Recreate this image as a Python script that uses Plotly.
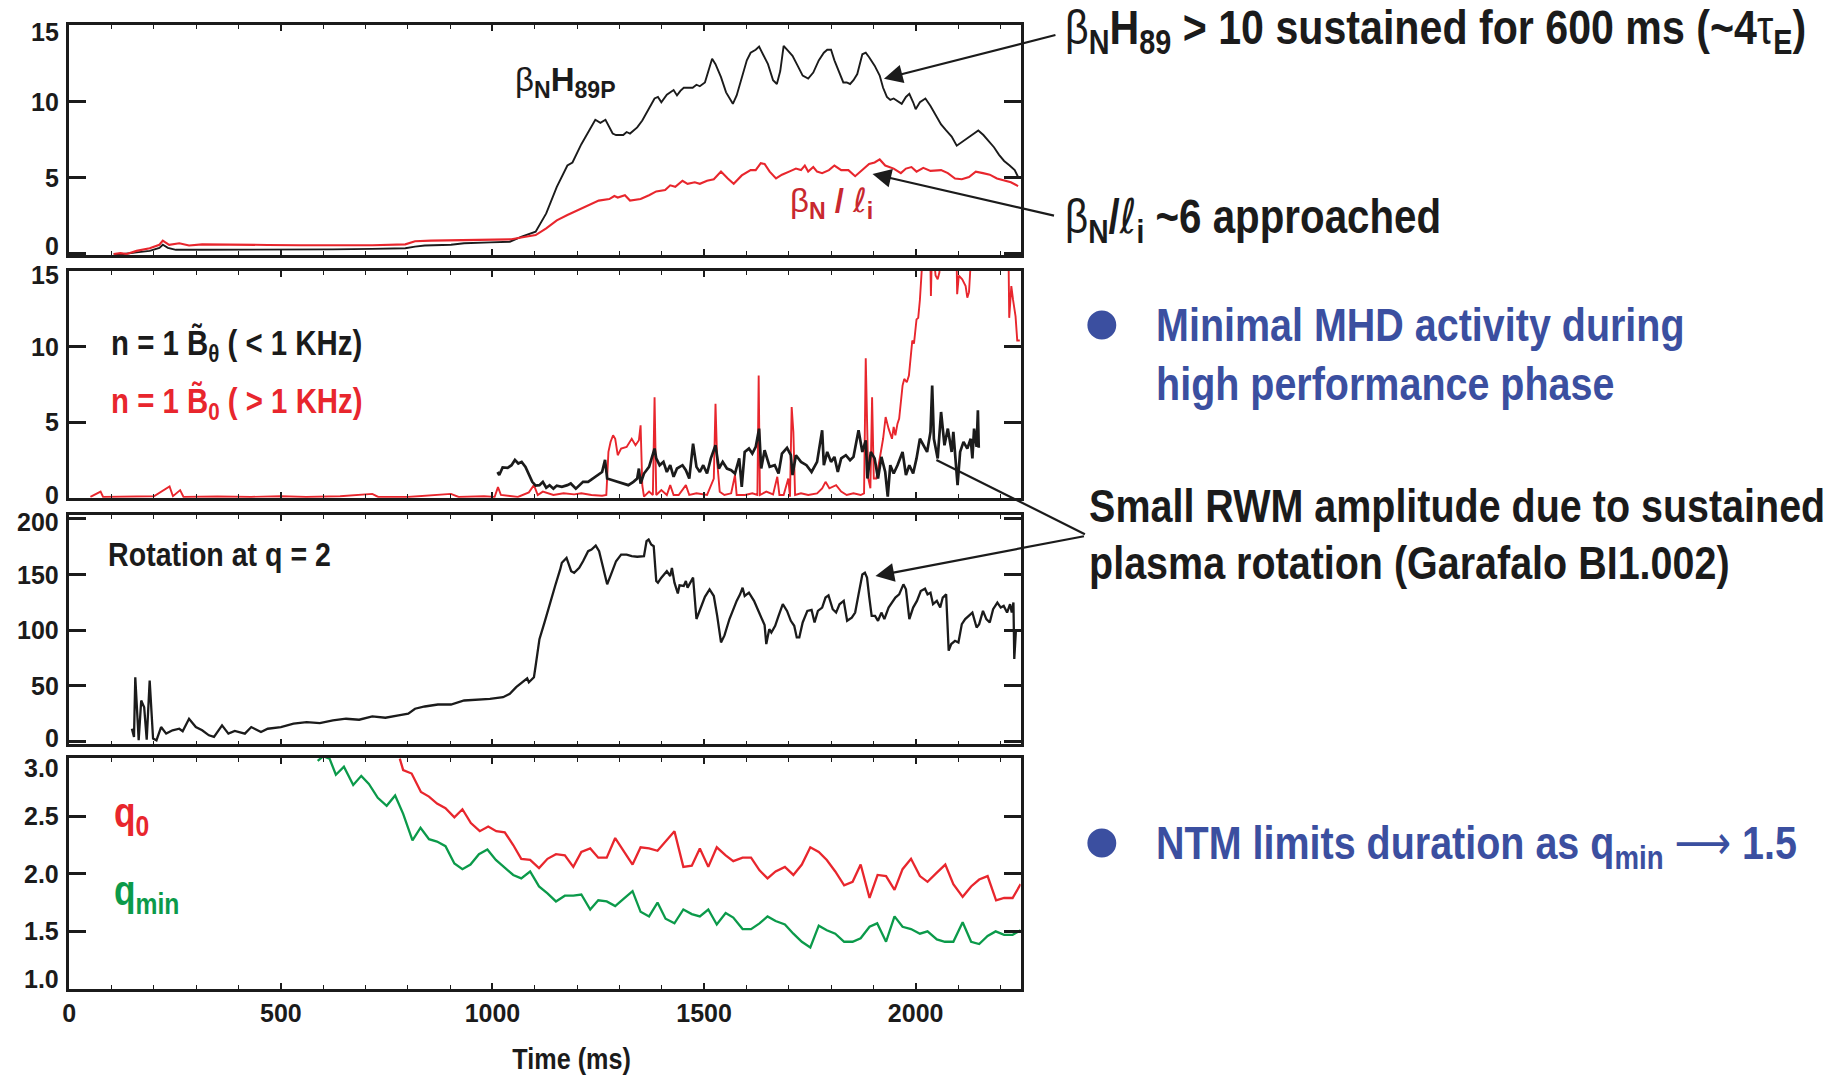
import plotly.graph_objects as go

W, H = 1843, 1075

# ---------------- data ----------------
# Panel 1: beta_N*H89P and beta_N/li versus time (ms)
t_bnh = [105, 128, 159, 190, 213, 221, 233, 252, 314, 391, 469, 546, 623, 716, 794, 817, 840, 902, 933,
         995, 1041, 1069, 1102, 1127, 1152, 1177, 1189, 1210, 1226, 1243, 1255, 1267, 1284, 1292, 1309,
         1317, 1325, 1342, 1354, 1370, 1383, 1391, 1399, 1412, 1420, 1428, 1436, 1444, 1452, 1461, 1473,
         1482, 1490, 1502, 1511, 1519, 1527, 1540, 1552, 1568, 1577, 1589, 1601, 1610, 1622, 1630, 1639,
         1651, 1663, 1672, 1680, 1688, 1696, 1709, 1721, 1733, 1746, 1758, 1771, 1783, 1791, 1800, 1808,
         1820, 1829, 1837, 1845, 1853, 1862, 1874, 1882, 1890, 1903, 1915, 1923, 1932, 1940, 1948, 1957,
         1967, 1977, 1985, 1994, 2000, 2010, 2023, 2035, 2047, 2060, 2072, 2085, 2097, 2110, 2122, 2135,
         2148, 2160, 2172, 2185, 2197, 2209, 2222, 2234, 2242]
bnh = [0.0, 0.0, 0.1, 0.2, 0.4, 0.6, 0.4, 0.27, 0.27, 0.27, 0.3, 0.3, 0.3, 0.33, 0.37, 0.48, 0.55, 0.6, 0.7,
       0.76, 0.8, 1.13, 1.46, 2.66, 4.4, 5.8, 6.0, 7.2, 8.0, 8.8, 8.6, 8.8, 7.9, 7.8, 7.8,
       8.0, 7.9, 8.3, 8.75, 9.6, 10.2, 10.3, 9.95, 10.45, 10.6, 10.75, 10.4, 10.7, 10.9, 10.9, 10.9,
       11.1, 11.0, 11.25, 12.0, 12.8, 12.45, 11.6, 10.6, 9.85, 10.4, 11.6, 12.7, 13.2, 13.4, 13.6, 13.1,
       12.45, 11.4, 11.15, 12.0, 13.65, 13.4, 13.0, 12.35, 11.7, 11.5, 11.9, 12.7, 13.2, 13.4, 13.4, 12.7,
       11.8, 11.25, 11.25, 11.15, 11.4, 11.8, 13.1, 13.2, 12.9, 12.35, 11.7, 10.9, 10.3, 10.1, 10.2, 10.05,
       9.85, 10.3, 10.5, 9.95, 9.5, 9.95, 10.2, 9.7, 9.1, 8.5, 8.1, 7.7, 7.1, 7.35, 7.6, 7.8,
       8.1, 7.8, 7.45, 7.0, 6.5, 6.1, 5.8, 5.5, 5.05]

t_bnli = [105, 121, 136, 159, 190, 213, 221, 236, 260, 283, 314, 391, 469, 546, 623, 716, 794, 817, 855,
          933, 995, 1045, 1078, 1102, 1127, 1152, 1177, 1201, 1226, 1251, 1276, 1288, 1296, 1313, 1325,
          1350, 1370, 1387, 1408, 1420, 1432, 1449, 1461, 1478, 1490, 1507, 1523, 1540, 1556, 1570, 1589,
          1610, 1622, 1634, 1643, 1655, 1670, 1684, 1705, 1717, 1729, 1738, 1746, 1758, 1767, 1779, 1795,
          1808, 1824, 1841, 1857, 1874, 1890, 1903, 1915, 1928, 1948, 1965, 1977, 1990, 2002, 2018, 2035,
          2060, 2076, 2093, 2109, 2126, 2142, 2159, 2175, 2192, 2209, 2225, 2242]
bnli = [0.0, 0.05, 0.0, 0.2, 0.37, 0.6, 0.87, 0.6, 0.7, 0.55, 0.63, 0.59, 0.59, 0.57, 0.57, 0.57, 0.63, 0.83, 0.87,
        0.9, 0.94, 0.96, 1.13, 1.24, 1.68, 2.2, 2.55, 2.87, 3.2, 3.5, 3.6, 3.8, 3.7, 3.85, 3.5,
        3.6, 3.85, 4.1, 4.2, 4.5, 4.4, 4.8, 4.6, 4.7, 4.6, 4.8, 4.9, 5.4, 4.95, 4.6, 5.15,
        5.5, 5.5, 5.95, 5.9, 5.4, 4.95, 5.2, 5.45, 5.6, 5.5, 5.8, 5.4, 5.7, 5.4, 5.3, 5.5,
        5.8, 5.5, 5.5, 5.1, 5.5, 5.9, 6.0, 6.2, 5.8, 5.6, 5.3, 5.6, 5.7, 5.4, 5.65, 5.45,
        5.5, 5.3, 4.95, 4.9, 5.05, 5.4, 5.3, 5.2, 4.95, 4.8, 4.7, 4.45]

# Panel 2: n=1 magnetic fluctuation amplitude, low (<1 kHz) and high (>1 kHz) band
t_blo = [1012, 1016, 1024, 1036, 1045, 1053, 1061, 1069, 1078, 1086, 1094, 1102, 1111, 1119, 1127, 1135,
         1144, 1152, 1164, 1177, 1185, 1197, 1205, 1214, 1226, 1238, 1251, 1259, 1266, 1271, 1284, 1296,
         1309, 1321, 1333, 1342, 1346, 1350, 1358, 1370, 1383, 1387, 1395, 1404, 1412, 1420, 1428, 1436,
         1449, 1457, 1465, 1474, 1482, 1490, 1498, 1507, 1516, 1527, 1535, 1544, 1554, 1564, 1573, 1583,
         1589, 1596, 1606, 1614, 1622, 1630, 1635, 1643, 1655, 1667, 1676, 1684, 1696, 1705, 1709, 1717,
         1729, 1742, 1754, 1767, 1779, 1783, 1791, 1800, 1808, 1816, 1824, 1835, 1845, 1853, 1865, 1874,
         1882, 1886, 1894, 1903, 1911, 1919, 1928, 1934, 1940, 1948, 1957, 1969, 1977, 1985, 1994, 2002,
         2010, 2019, 2027, 2035, 2039, 2043, 2052, 2060, 2068, 2076, 2085, 2089, 2099, 2105, 2113, 2122,
         2130, 2134, 2138, 2144, 2147, 2149]
blo = [1.7, 1.5, 2.0, 1.98, 2.15, 2.5, 2.26, 2.37, 2.04, 1.5, 1.05, 0.8, 0.83, 1.05, 0.66, 0.83,
       0.6, 0.8, 0.72, 0.83, 0.94, 0.6, 0.83, 1.05, 1.05, 1.27, 1.5, 1.7, 2.5, 1.27, 1.16, 1.05,
       0.94, 0.83, 1.05, 1.27, 1.93, 0.94, 1.6, 2.04, 3.25, 2.6, 2.15, 2.37, 1.7, 2.15, 1.38, 1.93,
       2.15, 1.82, 1.27, 3.58, 2.04, 1.7, 2.15, 1.6, 2.6, 3.47, 1.93, 2.37, 1.93, 1.82, 1.6, 2.6,
       0.72, 3.03, 3.25, 2.92, 3.36, 4.57, 1.93, 3.14, 2.04, 2.15, 1.6, 2.92, 3.3, 2.81, 1.5, 2.81,
       2.37, 2.15, 1.7, 2.37, 4.46, 2.15, 3.03, 2.37, 2.7, 1.7, 2.6, 2.81, 2.48, 2.7, 4.46, 3.03,
       3.8, 1.27, 3.03, 2.6, 1.27, 2.7, 1.7, 0.07, 2.15, 1.6, 2.15, 3.03, 1.5, 2.15, 1.6, 2.6,
       3.9, 3.47, 3.03, 4.35, 7.42, 3.9, 2.6, 5.67, 3.47, 4.57, 3.03, 4.35, 0.83, 3.03, 3.69, 3.25,
       3.9, 2.6, 4.57, 3.36, 5.78, 3.3]

t_bhi = [50, 74, 80, 150, 200, 237, 245, 262, 270, 350, 430, 500, 560, 640, 716, 730, 800, 902, 920, 980,
         1005, 1013, 1020, 1060, 1086, 1098, 1107, 1119, 1144, 1168, 1193, 1210, 1234, 1259, 1269, 1274,
         1279, 1285, 1290, 1296, 1304, 1317, 1329, 1338, 1346, 1350, 1354, 1358, 1370, 1379, 1383, 1387,
         1399, 1412, 1420, 1428, 1440, 1457, 1465, 1482, 1507, 1523, 1527, 1531, 1537, 1548, 1564, 1573,
         1577, 1597, 1614, 1626, 1629, 1632, 1647, 1663, 1673, 1678, 1688, 1699, 1703, 1707, 1711, 1715,
         1729, 1746, 1767, 1779, 1787, 1796, 1812, 1824, 1837, 1853, 1870, 1878, 1882, 1888, 1893, 1897,
         1901, 1907, 1915, 1923, 1929, 1936, 1944, 1948, 1952, 1957, 1961, 1965, 1969, 1973, 1979, 1984,
         1987, 1992, 1996, 2000, 2002, 2006, 2010, 2014, 2018, 2034, 2036, 2039, 2047, 2052, 2056, 2060,
         2096, 2098, 2102, 2110, 2118, 2122, 2126, 2133, 2219, 2221, 2226, 2230, 2236, 2240, 2246]
bhi = [0.05, 0.4, 0.05, 0.05, 0.1, 0.75, 0.1, 0.5, 0.05, 0.08, 0.05, 0.1, 0.05, 0.1, 0.25, 0.05, 0.05, 0.25, 0.05, 0.1,
       0.05, 0.7, 0.18, 0.05, 0.35, 0.83, 0.18, 0.4, 0.18, 0.29, 0.22, 0.29, 0.18, 0.13, 0.18, 3.03,
       3.69, 4.13, 3.9, 2.81, 3.25, 3.36, 3.9, 3.47, 3.8, 4.79, 0.83, 0.07, 0.4, 0.18, 6.65, 0.18,
       0.51, 0.18, 0.83, 0.18, 0.18, 0.83, 0.18, 0.29, 0.18, 1.27, 6.21, 2.37, 0.4, 0.18, 0.29, 1.49,
       0.18, 0.18, 0.29, 0.18, 8.08, 0.18, 0.4, 0.22, 1.38, 0.18, 0.18, 1.27, 0.07, 6.0, 4.35, 0.18,
       0.29, 0.18, 0.29, 0.62, 1.05, 0.62, 0.83, 0.4, 0.18, 0.29, 0.18, 0.29, 9.22, 1.27, 0.62, 6.65,
       1.27, 1.27, 2.59, 3.9, 5.34, 4.57, 3.9, 4.68, 4.13, 4.9, 5.23, 6.54, 7.42, 7.86, 7.64, 8.08,
       8.96, 10.4, 10.2, 11.4, 11.8, 11.9, 13.1, 14.9, 17.0, 17.0, 13.35, 17.0, 14.7, 14.45, 14.9, 17.0,
       17.0, 13.46, 14.7, 14.45, 14.0, 13.24, 13.6, 17.0, 17.0, 11.9, 14.0, 13.1, 12.0, 10.4, 10.4]

# Panel 3: toroidal rotation at q = 2 (krad/s)
t_rot = [148, 153, 156, 164, 170, 177, 183, 190, 198, 206, 217, 229, 244, 260, 268, 283, 299, 314, 330, 342,
         361, 376, 391, 415, 430, 453, 469, 500, 530, 561, 592, 623, 654, 685, 716, 747, 778, 801, 817, 840,
         871, 902, 933, 963, 994, 1025, 1041, 1056, 1069, 1082, 1086, 1098, 1102, 1111, 1123, 1135, 1148,
         1160, 1164, 1175, 1186, 1193, 1205, 1214, 1226, 1234, 1244, 1252, 1261, 1271, 1280, 1292, 1304,
         1317, 1329, 1342, 1358, 1364, 1369, 1375, 1381, 1387, 1391, 1399, 1412, 1420, 1424, 1430, 1438,
         1442, 1452, 1457, 1461, 1470, 1474, 1482, 1490, 1502, 1513, 1523, 1531, 1540, 1548, 1560, 1577,
         1585, 1591, 1596, 1606, 1618, 1630, 1643, 1647, 1654, 1659, 1668, 1676, 1686, 1696, 1705, 1713,
         1719, 1725, 1733, 1744, 1754, 1761, 1769, 1779, 1787, 1794, 1804, 1812, 1820, 1830, 1838, 1849,
         1857, 1865, 1874, 1880, 1885, 1890, 1896, 1904, 1911, 1919, 1926, 1936, 1944, 1952, 1961, 1971,
         1977, 1985, 1994, 2003, 2012, 2022, 2028, 2035, 2041, 2050, 2058, 2064, 2072, 2078, 2084, 2093,
         2101, 2109, 2117, 2126, 2134, 2144, 2150, 2159, 2167, 2175, 2183, 2193, 2201, 2208, 2216, 2223,
         2227, 2231, 2233, 2237]
rot = [11.3, 3.9, 57.6, 0.9, 36.7, 30.7, 1.5, 54.6, 2.4, 0.9, 12.8, 6.9, 9.9, 11.3, 9.0, 20.3, 12.8, 9.9, 5.4, 3.9,
       14.3, 6.9, 9.3, 6.9, 12.8, 8.4, 11.3, 12.8, 15.8, 17.3, 16.4, 18.8, 20.3, 19.4, 22.4, 21.2, 23.3, 24.8, 29.3, 31.3,
       33.1, 33.1, 36.7, 37.3, 38.2, 39.7, 42.7, 48.7, 53.1, 56.7, 53.1, 57.6, 68.0, 91.9, 106.9, 123.3, 139.7,
       154.6, 160.6, 165.0, 153.0, 151.6, 156.0, 162.0, 171.0, 172.5, 176.0, 171.0, 156.0, 141.2, 150.0, 162.0, 168.0,
       168.0, 166.6, 166.0, 166.6, 180.0, 181.5, 177.0, 175.5, 144.2, 142.7, 147.2, 153.0, 148.7, 156.0, 142.7, 133.0,
       140.3, 139.7, 144.2, 138.2, 145.0, 147.2, 110.0, 117.3, 130.0, 136.7, 130.7, 112.8, 89.0, 95.0, 110.0, 126.3,
       132.2, 138.2, 130.7, 133.7, 126.3, 115.8, 104.5, 87.5, 100.9, 97.9, 103.9, 112.8, 123.3, 117.3, 108.4, 103.9,
       93.4, 93.4, 106.9, 117.3, 118.2, 106.9, 117.3, 120.3, 129.3, 131.3, 118.8, 115.8, 123.3, 126.3, 108.4, 111.3,
       115.8, 132.2, 150.1, 151.6, 147.2, 130.7, 112.8, 112.8, 108.4, 115.8, 109.9, 120.3, 124.8, 129.3, 132.2, 141.2,
       136.7, 109.9, 120.3, 126.3, 135.2, 137.3, 132.2, 133.7, 123.3, 126.3, 120.3, 129.3, 132.2, 81.5, 87.5, 90.4,
       88.9, 105.4, 109.9, 112.8, 115.8, 102.4, 105.4, 117.3, 109.9, 106.9, 118.8, 124.8, 120.3, 121.8, 115.8, 123.3,
       115.8, 124.8, 74.0, 100.9]

# Panel 4: central safety factor q0 and minimum safety factor qmin
t_qmin = [587, 600, 615, 630, 649, 671, 690, 708, 729, 750, 770, 789, 811, 830, 850, 869, 889, 910, 929, 948,
          968, 988, 1008, 1027, 1049, 1068, 1089, 1110, 1130, 1150, 1171, 1191, 1210, 1231, 1250, 1270, 1290,
          1309, 1331, 1350, 1370, 1390, 1409, 1430, 1451, 1471, 1490, 1510, 1530, 1551, 1569, 1591, 1611,
          1631, 1650, 1669, 1691, 1711, 1731, 1751, 1771, 1790, 1810, 1831, 1851, 1870, 1891, 1909, 1930,
          1950, 1969, 1989, 2010, 2028, 2050, 2069, 2089, 2111, 2131, 2150, 2170, 2189, 2209, 2229, 2248]
qmin = [2.98, 3.02, 3.0, 2.86, 2.93, 2.77, 2.85, 2.78, 2.66, 2.59, 2.68, 2.52, 2.29, 2.4, 2.3, 2.28, 2.24, 2.09, 2.04, 2.08,
        2.17, 2.21, 2.12, 2.06, 1.99, 1.96, 2.02, 1.89, 1.83, 1.76, 1.81, 1.81, 1.82, 1.69, 1.77, 1.76, 1.72,
        1.78, 1.85, 1.67, 1.63, 1.75, 1.61, 1.57, 1.69, 1.65, 1.63, 1.69, 1.56, 1.66, 1.62, 1.52, 1.52,
        1.57, 1.63, 1.59, 1.56, 1.48, 1.41, 1.36, 1.55, 1.51, 1.48, 1.41, 1.41, 1.44, 1.54, 1.57, 1.41,
        1.63, 1.54, 1.52, 1.48, 1.5, 1.43, 1.41, 1.41, 1.58, 1.41, 1.39, 1.46, 1.5, 1.47, 1.47, 1.51]

t_q0 = [781, 789, 809, 831, 850, 869, 889, 910, 929, 949, 970, 990, 1009, 1029, 1049, 1068, 1089, 1110, 1130,
        1150, 1171, 1191, 1210, 1231, 1250, 1270, 1290, 1309, 1331, 1350, 1370, 1390, 1409, 1430, 1451, 1471,
        1490, 1510, 1530, 1551, 1569, 1591, 1611, 1631, 1650, 1669, 1691, 1711, 1731, 1751, 1771, 1790, 1810,
        1831, 1851, 1870, 1891, 1910, 1930, 1950, 1969, 1989, 2010, 2028, 2050, 2070, 2089, 2111, 2131, 2150,
        2170, 2190, 2209, 2229, 2248]
q0 = [3.0, 2.9, 2.87, 2.71, 2.67, 2.61, 2.57, 2.49, 2.56, 2.44, 2.37, 2.41, 2.37, 2.36, 2.25, 2.13, 2.12, 2.05, 2.13,
      2.17, 2.16, 2.06, 2.19, 2.22, 2.14, 2.14, 2.31, 2.2, 2.08, 2.23, 2.22, 2.2, 2.28, 2.37, 2.06, 2.07,
      2.22, 2.06, 2.23, 2.16, 2.11, 2.14, 2.14, 2.03, 1.96, 2.02, 2.06, 1.99, 2.08, 2.23, 2.19, 2.12, 2.02,
      1.9, 1.93, 2.08, 1.79, 1.99, 1.98, 1.86, 2.04, 2.13, 1.98, 1.93, 2.01, 2.08, 1.91, 1.8, 1.89, 1.95,
      1.98, 1.77, 1.79, 1.79, 1.91]

# Axis ticks per panel
x_ticks = [0, 500, 1000, 1500, 2000]
y_ticks = [
    [0, 5, 10, 15],
    [0, 5, 10, 15],
    [0, 50, 100, 150, 200],
    [1.0, 1.5, 2.0, 2.5, 3.0],
]
y_tick_text = [
    ["0", "5", "10", "15"],
    ["0", "5", "10", "15"],
    ["0", "50", "100", "150", "200"],
    ["1.0", "1.5", "2.0", "2.5", "3.0"],
]

# ---------------- styling ----------------
FONT = "Liberation Sans Narrow, Arial Narrow, Liberation Sans, Arial, sans-serif"
BLACK = "#1b1b1b"
RED = "#e8262d"
DARKRED = "#c9282f"
GREEN = "#0b9a4a"
BLUE = "#3b4fa0"
NARROW = 0.84                    # horizontal squeeze applied to the condensed headings

X0, X1 = 62.5, 1017.5           # plot frame, pixels
panel_px = [(25.3, 255.0), (271.0, 497.7), (515.3, 744.3), (758.0, 989.0)]
y_ranges = [[-0.07, 15.0], [0.0, 15.0], [-2.7, 203.3], [1.0, 3.005]]
edge_nudge = [(8, -7), (3, -4), (3, -3), (10, -9)]  # label shift (px) for lowest / highest tick
TICK_SIZE = 25

# inline glyph styles: light Greek letters, script ell, long arrow
BETA = "<span style='font-weight:normal'>β</span>"
TAU = "<span style='font-weight:normal'>τ</span>"
ELL = "<span style='font-family:DejaVu Sans;font-weight:normal;font-style:italic'>ℓ</span>"
ARROW = "<span style='font-family:DejaVu Sans;font-weight:normal'>⟶</span>"


def px(x):
    return x / W


def py(y):
    return 1 - y / H


fig = go.Figure()

series = [
    (1, t_bnh, bnh, BLACK, 1.9),
    (1, t_bnli, bnli, RED, 2.1),
    (2, t_bhi, bhi, RED, 1.9),
    (2, t_blo, blo, BLACK, 2.7),
    (3, t_rot, rot, BLACK, 2.3),
    (4, t_q0, q0, RED, 2.3),
    (4, t_qmin, qmin, GREEN, 2.3),
]
for panel, tx, vy, col, lw in series:
    sfx = "" if panel == 1 else str(panel)
    fig.add_trace(go.Scatter(x=tx, y=vy, mode="lines", xaxis="x" + sfx, yaxis="y" + sfx,
                             line=dict(color=col, width=lw), showlegend=False, hoverinfo="skip"))

layout = dict(
    width=W, height=H,
    margin=dict(l=0, r=0, t=0, b=0),
    paper_bgcolor="white", plot_bgcolor="white",
    font=dict(family=FONT, color=BLACK, size=TICK_SIZE, weight="bold"),
    showlegend=False,
)

for i in range(4):
    sfx = "" if i == 0 else str(i + 1)
    top, bot = panel_px[i]
    last = i == 3
    layout["xaxis" + sfx] = dict(
        domain=[px(X0), px(X1)], range=[0, 2248], anchor="y" + sfx,
        matches=None if i == 0 else "x",
        showline=True, linewidth=2.6, linecolor=BLACK, mirror="allticks",
        ticks="inside", ticklen=6, tickwidth=2.2, tickcolor=BLACK,
        tickvals=x_ticks, ticktext=[str(v) for v in x_ticks],
        showticklabels=last, tickfont=dict(size=TICK_SIZE, family=FONT, weight="bold"),
        minor=dict(dtick=100, tick0=0, ticks="inside", ticklen=4, tickwidth=1.4, tickcolor=BLACK),
        showgrid=False, zeroline=False,
    )
    layout["yaxis" + sfx] = dict(
        domain=[py(bot), py(top)], range=y_ranges[i], anchor="x" + sfx,
        showline=True, linewidth=2.6, linecolor=BLACK, mirror="allticks",
        ticks="inside", ticklen=17, tickwidth=2.6, tickcolor=BLACK,
        tickvals=y_ticks[i], showticklabels=False,
        showgrid=False, zeroline=False,
    )

fig.update_layout(**layout)

ann = []
# y tick labels, kept inside each panel's height
for i in range(4):
    yref = "y" if i == 0 else "y" + str(i + 1)
    n = len(y_ticks[i])
    for k, (v, s) in enumerate(zip(y_ticks[i], y_tick_text[i])):
        shift = edge_nudge[i][0] if k == 0 else (edge_nudge[i][1] if k == n - 1 else 0)
        ann.append(dict(xref="paper", yref=yref, x=px(54), y=v, yshift=shift, text=s,
                        xanchor="right", yanchor="middle", showarrow=False,
                        font=dict(size=TICK_SIZE, family=FONT, color=BLACK, weight="bold")))


def label(x, y, text, size, color=BLACK, xanchor="left", narrow=True):
    ann.append(dict(xref="paper", yref="paper", x=px(x), y=py(y), text=text,
                    xanchor=xanchor, yanchor="middle", showarrow=False,
                    name="narrow" if narrow else "plain",
                    font=dict(size=size, family=FONT, color=color, weight="bold")))


# in-panel labels
label(508, 82, BETA + "<sub>N</sub>H<sub>89P</sub>", 33, narrow=False)
label(784, 202, BETA + "<sub>N</sub> / " + ELL + "<sub>i</sub>", 33, DARKRED, narrow=False)
label(102, 345, "n = 1 B\u0303<sub>θ</sub> ( < 1 KHz)", 35)
label(102, 403, "n = 1 B\u0303<sub>0</sub> ( > 1 KHz)", 35, RED)
label(99, 554, "Rotation at q = 2", 34)
label(105, 815, "q<sub>0</sub>", 42, RED)
label(105, 893, "q<sub>min</sub>", 42, GREEN)
label(567, 1058, "Time (ms)", 30, xanchor="center")

# commentary on the right
label(1060, 30, BETA + "<sub>N</sub>H<sub>89</sub> > 10 sustained for 600 ms (~4" + TAU + "<sub>E</sub>)", 49)
label(1060, 219, BETA + "<sub>N</sub>/" + ELL + "<sub>i</sub> ~6 approached", 48)
label(1151, 324, "Minimal MHD activity during", 47, BLUE)
label(1151, 383, "high performance phase", 47, BLUE)
label(1084, 505, "Small RWM amplitude due to sustained", 47)
label(1084, 562, "plasma rotation (Garafalo BI1.002)", 47)
label(1151, 845, "NTM limits duration as q<sub>min</sub> " + ARROW + " 1.5", 47, BLUE)

# arrows from the commentary to the traces
arrows = [
    ("x", "y", 1925, 11.5, 173, -44, 2),
    ("x", "y", 1898, 5.25, 183, 42, 2),
    ("x3", "y3", 1905, 148.7, 210, -40, 2),
    ("x2", "y2", 2049, 2.5, 150, 75, 0),
]
for xr, yr, hx, hy, ax, ay, head in arrows:
    ann.append(dict(xref=xr, yref=yr, x=hx, y=hy, ax=ax, ay=ay, text="", showarrow=True,
                    arrowhead=head, arrowsize=1.7, arrowwidth=2.2, arrowcolor=BLACK,
                    standoff=0, startstandoff=0))

fig.update_layout(annotations=ann)

# bullets
for cx, cy in [(1099, 325), (1099, 843)]:
    r = 14.5
    fig.add_shape(type="circle", xref="paper", yref="paper",
                  x0=px(cx - r), x1=px(cx + r), y0=py(cy + r), y1=py(cy - r),
                  fillcolor=BLUE, line=dict(width=0))

# Condensed look for the headings: squeeze each marked annotation horizontally
# about its anchored edge once it has been laid out.
squeeze_js = """
var gd = document.getElementById('{plot_id}');
var K = %s;
function squeeze() {
  var anns = (gd._fullLayout && gd._fullLayout.annotations) || [];
  anns.forEach(function (a, i) {
    if (a.name !== 'narrow') return;
    var el = gd.querySelector('.annotation[data-index="' + i + '"] text.annotation-text');
    if (!el || el.getAttribute('data-squeezed')) return;
    var b = el.getBBox();
    var cx = a.xanchor === 'right' ? b.x + b.width : (a.xanchor === 'center' ? b.x + b.width / 2 : b.x);
    var prev = el.getAttribute('transform') || '';
    el.setAttribute('transform', prev + ' translate(' + cx + ',0) scale(' + K + ',1) translate(' + (-cx) + ',0)');
    el.setAttribute('data-squeezed', '1');
  });
}
squeeze();
gd.on('plotly_afterplot', squeeze);
""" % NARROW

fig.write_html("out.html", post_script=squeeze_js)
